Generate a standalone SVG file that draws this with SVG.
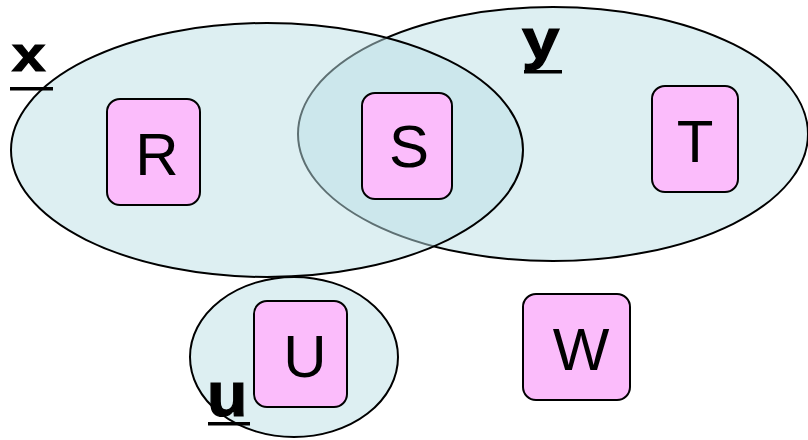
<svg xmlns="http://www.w3.org/2000/svg" width="808" height="440" viewBox="0 0 808 440">
  <style>
    .set { fill: #bbdfe5; fill-opacity: 0.5; stroke: #000; stroke-width: 2; }
    .box { fill: #fbbcfb; stroke: #000; stroke-width: 2; }
    .lbl { font-family: "Liberation Sans", Arial, sans-serif; font-size: 60px; fill: #000; text-anchor: middle; }
    .setlbl { font-family: "Liberation Sans", Arial, sans-serif; font-weight: bold; fill: #000; stroke: #000; stroke-width: 1.2; }
    .ul { fill: #000; }
  </style>
  <rect width="808" height="440" fill="#fff"/>
  <g id="set-y">
    <ellipse class="set" cx="553" cy="134" rx="255" ry="127"/>
    <text class="setlbl" font-size="56" transform="translate(522,58) scale(1.2,1)">y</text>
    <rect class="ul" x="524" y="70" width="38" height="3.5"/>
  </g>
  <g id="set-x">
    <ellipse class="set" cx="267" cy="150" rx="256" ry="127"/>
    <text class="setlbl" font-size="48" transform="translate(12,71) scale(1.25,1)">x</text>
    <rect class="ul" x="10" y="87" width="43" height="3.5"/>
  </g>
  <g id="set-u">
    <ellipse class="set" cx="294" cy="357" rx="104" ry="80"/>
    <text class="setlbl" font-size="63" transform="translate(207,416) scale(1.05,1)">u</text>
    <rect class="ul" x="208" y="422" width="42" height="3.5"/>
  </g>
  <g id="connectors"></g>
  <g id="node-R">
    <rect class="box" x="107" y="99" width="93" height="106" rx="13"/>
    <text class="lbl" x="157" y="175">R</text>
  </g>
  <g id="node-S">
    <rect class="box" x="362" y="93" width="90" height="106" rx="13"/>
    <text class="lbl" x="409" y="167">S</text>
  </g>
  <g id="node-T">
    <rect class="box" x="652" y="86" width="86" height="106" rx="13"/>
    <text class="lbl" x="695" y="162">T</text>
  </g>
  <g id="node-U">
    <rect class="box" x="254" y="301" width="93" height="106" rx="13"/>
    <text class="lbl" x="305" y="377">U</text>
  </g>
  <g id="node-W">
    <rect class="box" x="523" y="294" width="107" height="106" rx="13"/>
    <text class="lbl" x="581" y="370">W</text>
  </g>
</svg>
